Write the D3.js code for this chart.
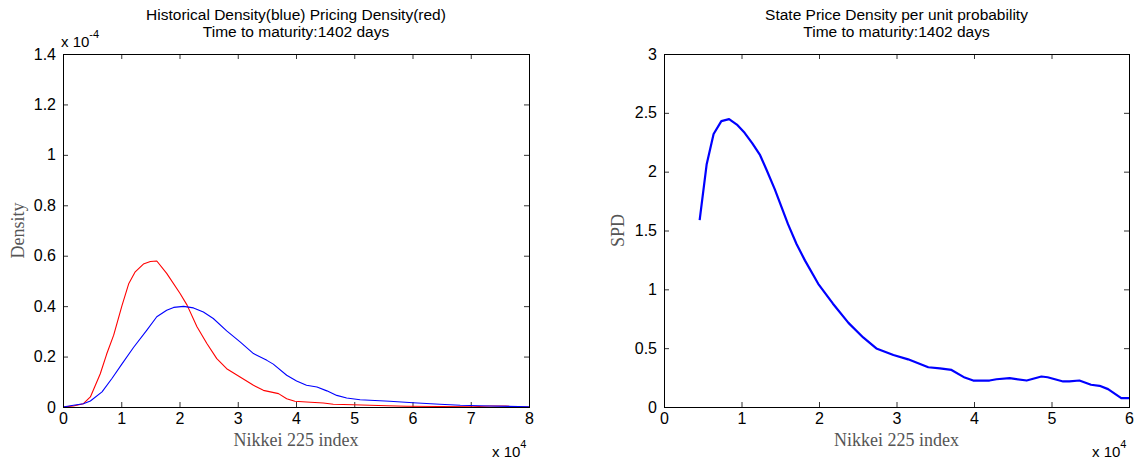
<!DOCTYPE html>
<html>
<head>
<meta charset="utf-8">
<script src="https://cdn.jsdelivr.net/npm/d3@7"></script>
<style>
  html, body { margin: 0; padding: 0; background: #fff; }
  svg { display: block; }
  .tick text { font-family: "Liberation Sans", Arial, sans-serif; }
</style>
</head>
<body>
<svg id="chart" width="1135" height="460"></svg>
<script>
// ---- Data (x in units of 10^4 index points, density in units of 10^-4) ----
const pricingX = [0, 0.18, 0.35, 0.47, 0.64, 0.75, 0.87, 1.01, 1.13, 1.24, 1.38, 1.5, 1.61, 1.78, 2.01, 2.13, 2.3, 2.47, 2.64, 2.81, 3.04, 3.27, 3.44, 3.7, 3.84, 3.98, 4.18, 4.47, 4.64, 4.98, 5.56, 5.9, 7.04, 7.33, 7.6, 7.73, 8];
const pricingY = [0, 0.004, 0.013, 0.04, 0.132, 0.21, 0.285, 0.40, 0.49, 0.536, 0.567, 0.577, 0.579, 0.53, 0.45, 0.404, 0.318, 0.252, 0.192, 0.152, 0.119, 0.086, 0.066, 0.053, 0.033, 0.023, 0.02, 0.016, 0.011, 0.009, 0.005, 0.003, 0.001, 0.004, 0.004, 0.001, 0];

const histX = [0, 0.18, 0.35, 0.47, 0.67, 0.84, 1.01, 1.21, 1.44, 1.61, 1.78, 1.9, 2.07, 2.24, 2.41, 2.58, 2.81, 3.04, 3.27, 3.5, 3.61, 3.84, 4.01, 4.18, 4.36, 4.53, 4.7, 4.87, 5.1, 5.61, 6.01, 6.47, 6.82, 7.33, 8];
const histY = [0, 0.007, 0.013, 0.024, 0.06, 0.113, 0.17, 0.236, 0.305, 0.358, 0.384, 0.395, 0.399, 0.393, 0.377, 0.351, 0.302, 0.258, 0.212, 0.185, 0.17, 0.126, 0.103, 0.086, 0.079, 0.064, 0.046, 0.036, 0.029, 0.023, 0.017, 0.011, 0.007, 0.004, 0.001];

const spdX = [0.46, 0.55, 0.64, 0.74, 0.84, 0.94, 1.04, 1.14, 1.24, 1.32, 1.43, 1.6, 1.71, 1.82, 1.99, 2.18, 2.38, 2.57, 2.74, 2.96, 3.15, 3.41, 3.56, 3.71, 3.88, 3.99, 4.2, 4.29, 4.46, 4.68, 4.87, 4.95, 5.15, 5.23, 5.36, 5.51, 5.62, 5.73, 5.9, 6];
const spdY = [1.588, 2.06, 2.32, 2.43, 2.446, 2.40, 2.33, 2.24, 2.14, 2.02, 1.85, 1.554, 1.385, 1.244, 1.047, 0.878, 0.715, 0.591, 0.498, 0.442, 0.405, 0.338, 0.329, 0.315, 0.25, 0.225, 0.225, 0.236, 0.245, 0.225, 0.259, 0.253, 0.217, 0.217, 0.225, 0.189, 0.18, 0.152, 0.076, 0.076];

// ---- Tick values ----
const leftXTicks = [0, 1, 2, 3, 4, 5, 6, 7, 8];
const leftYTicks = [0, 0.2, 0.4, 0.6, 0.8, 1, 1.2, 1.4];
const rightXTicks = [0, 1, 2, 3, 4, 5, 6];
const rightYTicks = [0, 0.5, 1, 1.5, 2, 2.5, 3];

// ---- Titles / labels ----
const leftTitle = ["Historical Density(blue) Pricing Density(red)", "Time to maturity:1402 days"];
const rightTitle = ["State Price Density per unit probability", "Time to maturity:1402 days"];
const xLabel = "Nikkei 225 index";
const leftYLabel = "Density";
const rightYLabel = "SPD";

const svg = d3.select("#chart");
const fmt = d => String(+d.toFixed(2));

function panel(cfg) {
  const x = d3.scaleLinear().domain(cfg.xDomain).range([cfg.left, cfg.right]);
  const y = d3.scaleLinear().domain(cfg.yDomain).range([cfg.bottom, cfg.top]);
  const g = svg.append("g");
  const tickLen = 5;

  // inner ticks on all four sides (MATLAB box style)
  const axB = d3.axisBottom(x).tickValues(cfg.xTicks).tickSize(-tickLen).tickPadding(6).tickFormat(fmt);
  const axT = d3.axisTop(x).tickValues(cfg.xTicks).tickSize(-tickLen).tickFormat("");
  const axL = d3.axisLeft(y).tickValues(cfg.yTicks).tickSize(-tickLen).tickPadding(7).tickFormat(fmt);
  const axR = d3.axisRight(y).tickValues(cfg.yTicks).tickSize(-tickLen).tickFormat("");

  const gb = g.append("g").attr("transform", `translate(0,${cfg.bottom})`).call(axB);
  const gt = g.append("g").attr("transform", `translate(0,${cfg.top})`).call(axT);
  const gl = g.append("g").attr("transform", `translate(${cfg.left},0)`).call(axL);
  const gr = g.append("g").attr("transform", `translate(${cfg.right},0)`).call(axR);
  [gb, gt, gl, gr].forEach(a => {
    a.select(".domain").remove();
    a.selectAll(".tick line").attr("stroke", "#333").attr("stroke-width", 1);
    a.selectAll(".tick text").attr("font-size", 16).attr("fill", "#000");
  });
  gb.selectAll(".tick text").attr("dy", "0.71em");

  // data lines
  const line = d3.line().x(d => x(d[0])).y(d => y(d[1]));
  cfg.series.forEach(s => {
    g.append("path")
      .datum(d3.zip(s.x, s.y))
      .attr("fill", "none")
      .attr("stroke", s.color)
      .attr("stroke-width", s.width)
      .attr("stroke-linejoin", "round")
      .attr("d", line);
  });

  // box
  g.append("rect")
    .attr("x", cfg.left + 0.5).attr("y", cfg.top + 0.5)
    .attr("width", cfg.right - cfg.left).attr("height", cfg.bottom - cfg.top)
    .attr("fill", "none").attr("stroke", "#000").attr("stroke-width", 1);

  const cx = (cfg.left + cfg.right) / 2;
  // title
  cfg.title.forEach((t, i) => {
    g.append("text").attr("x", cx).attr("y", 20 + i * 17)
      .attr("text-anchor", "middle")
      .attr("font-family", "Liberation Sans, Arial, sans-serif")
      .attr("font-size", 15.5).attr("fill", "#000").text(t);
  });
  // x label
  g.append("text").attr("x", cx).attr("y", 446)
    .attr("text-anchor", "middle")
    .attr("font-family", "Liberation Serif, Times New Roman, serif")
    .attr("font-size", 18).attr("fill", "#555").text(xLabel);
  // y label
  g.append("text")
    .attr("transform", `translate(${cfg.yLabelX},${(cfg.top + cfg.bottom) / 2}) rotate(-90)`)
    .attr("text-anchor", "middle")
    .attr("font-family", "Liberation Serif, Times New Roman, serif")
    .attr("font-size", 18).attr("fill", "#555").text(cfg.yLabel);

  // x 10^4 exponent at bottom right
  const ex = g.append("text").attr("x", cfg.right - 37).attr("y", 457)
    .attr("font-family", "Liberation Sans, Arial, sans-serif")
    .attr("font-size", 15).attr("fill", "#000");
  ex.append("tspan").text("x 10");
  ex.append("tspan").attr("font-size", 11).attr("dy", -9).text("4");

  if (cfg.yExp) {
    const ey = g.append("text").attr("x", cfg.left - 2).attr("y", 47)
      .attr("font-family", "Liberation Sans, Arial, sans-serif")
      .attr("font-size", 15).attr("fill", "#000");
    ey.append("tspan").text("x 10");
    ey.append("tspan").attr("font-size", 11).attr("dy", -9).text(cfg.yExp);
  }
}

panel({
  left: 63, right: 529, top: 54, bottom: 407,
  xDomain: [0, 8], yDomain: [0, 1.4],
  xTicks: leftXTicks, yTicks: leftYTicks,
  title: leftTitle, yLabel: leftYLabel, yLabelX: 24, yExp: "-4",
  series: [
    { x: pricingX, y: pricingY, color: "#ff0000", width: 1.1 },
    { x: histX, y: histY, color: "#0000ff", width: 1.1 }
  ]
});

panel({
  left: 664, right: 1129, top: 54, bottom: 407,
  xDomain: [0, 6], yDomain: [0, 3],
  xTicks: rightXTicks, yTicks: rightYTicks,
  title: rightTitle, yLabel: rightYLabel, yLabelX: 624,
  series: [
    { x: spdX, y: spdY, color: "#0000ff", width: 2.2 }
  ]
});
</script>
</body>
</html>
